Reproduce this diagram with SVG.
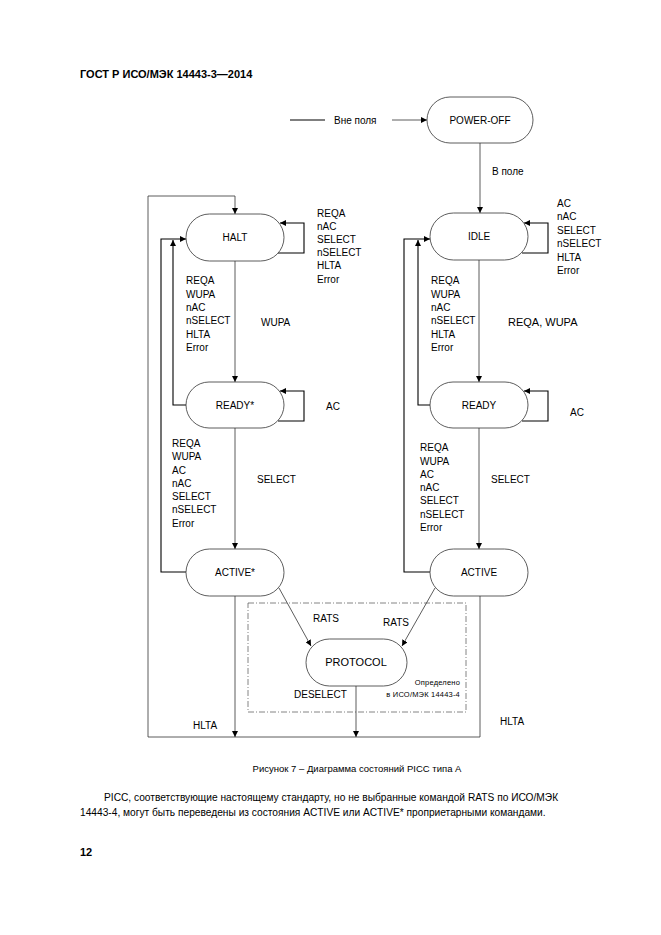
<svg xmlns="http://www.w3.org/2000/svg" width="661" height="935" viewBox="0 0 661 935">
<defs>
<marker id="ah" viewBox="0 0 10 10" refX="10" refY="5" markerWidth="6" markerHeight="6" orient="auto" markerUnits="userSpaceOnUse">
<path d="M0,0 L10,5 L0,10 z" fill="#000"/>
</marker>
</defs>
<style>
text{font-family:"Liberation Sans",Arial,sans-serif;fill:#000}
.t{font-size:10px}
.n{font-size:10px;text-anchor:middle}
.s{font-size:7.5px;text-anchor:end;letter-spacing:0.2px}
.node{fill:#fff;stroke:#333;stroke-width:0.8}
.c{fill:none;stroke:#333;stroke-width:0.8}
.b{fill:none;stroke:#000;stroke-width:1.1}
.box{fill:none;stroke:#666;stroke-width:0.8;stroke-dasharray:6 2 1 2}
</style>
<rect width="661" height="935" fill="#fff"/>
<text x="80" y="78" style="font-size:11px;font-weight:bold">ГОСТ Р ИСО/МЭК 14443-3—2014</text>

<rect class="box" x="248" y="603" width="218" height="109"/>

<g id="connectors">
<line class="b" x1="290" y1="120" x2="325" y2="120"/>
<line class="c" x1="392" y1="120" x2="427" y2="120" marker-end="url(#ah)"/>
<line class="c" x1="480" y1="143" x2="480" y2="213" marker-end="url(#ah)"/>
<path class="c" d="M480,596 V737 H148 V196 H235 V214" marker-end="url(#ah)"/>
<line class="c" x1="235" y1="596" x2="235" y2="737" marker-end="url(#ah)"/>
<line class="c" x1="356" y1="686" x2="356" y2="737" marker-end="url(#ah)"/>
<path class="b" d="M186,572 H161 V239 H186" marker-end="url(#ah)"/>
<path class="b" d="M186,405 H173 V240" marker-end="url(#ah)"/>
<path class="b" d="M278,253 H304 V223 H280" marker-end="url(#ah)"/>
<line class="c" x1="235" y1="261" x2="235" y2="382" marker-end="url(#ah)"/>
<path class="b" d="M278,421 H304 V391 H280" marker-end="url(#ah)"/>
<line class="c" x1="235" y1="428" x2="235" y2="549" marker-end="url(#ah)"/>
<line class="c" x1="279" y1="588" x2="311" y2="646" marker-end="url(#ah)"/>
<line class="c" x1="435" y1="588" x2="402" y2="646" marker-end="url(#ah)"/>
<path class="b" d="M430,572 H404 V239 H430" marker-end="url(#ah)"/>
<path class="b" d="M430,405 H418 V240" marker-end="url(#ah)"/>
<path class="b" d="M522,253 H548 V223 H524" marker-end="url(#ah)"/>
<line class="c" x1="479" y1="260" x2="479" y2="382" marker-end="url(#ah)"/>
<path class="b" d="M522,421 H548 V391 H524" marker-end="url(#ah)"/>
<line class="c" x1="479" y1="428" x2="479" y2="549" marker-end="url(#ah)"/>
</g>

<g id="power-off"><rect class="node" x="427" y="97" width="106" height="46" rx="23"/><text class="n" x="480" y="124">POWER-OFF</text></g>
<g id="halt"><rect class="node" x="186" y="214" width="98" height="47" rx="23.5"/><text class="n" x="235" y="241">HALT</text></g>
<g id="idle"><rect class="node" x="430" y="213" width="98" height="47" rx="23.5"/><text class="n" x="479" y="240">IDLE</text></g>
<g id="ready-star"><rect class="node" x="186" y="382" width="98" height="46" rx="23"/><text class="n" x="235" y="409">READY*</text></g>
<g id="ready"><rect class="node" x="430" y="382" width="98" height="46" rx="23"/><text class="n" x="479" y="409">READY</text></g>
<g id="active-star"><rect class="node" x="186" y="549" width="98" height="47" rx="23.5"/><text class="n" x="235" y="576">ACTIVE*</text></g>
<g id="active"><rect class="node" x="430" y="549" width="98" height="47" rx="23.5"/><text class="n" x="479" y="576">ACTIVE</text></g>
<g id="protocol"><rect class="node" x="306" y="639" width="101" height="47" rx="23.5"/><text class="n" x="356" y="666" style="font-size:11px">PROTOCOL</text></g>

<g id="labels">
<text class="t" x="334" y="124">Вне поля</text>
<text class="t" x="492" y="175">В поле</text>
<text class="t" x="317" y="217">REQA</text>
<text class="t" x="317" y="230">nAC</text>
<text class="t" x="317" y="243">SELECT</text>
<text class="t" x="317" y="256">nSELECT</text>
<text class="t" x="317" y="269">HLTA</text>
<text class="t" x="317" y="283">Error</text>
<text class="t" x="186" y="284">REQA</text>
<text class="t" x="186" y="298">WUPA</text>
<text class="t" x="186" y="311">nAC</text>
<text class="t" x="186" y="324">nSELECT</text>
<text class="t" x="186" y="338">HLTA</text>
<text class="t" x="186" y="351">Error</text>
<text class="t" x="261" y="326">WUPA</text>
<text class="t" x="326" y="410">AC</text>
<text class="t" x="172" y="447">REQA</text>
<text class="t" x="172" y="460">WUPA</text>
<text class="t" x="172" y="474">AC</text>
<text class="t" x="172" y="487">nAC</text>
<text class="t" x="172" y="500">SELECT</text>
<text class="t" x="172" y="513">nSELECT</text>
<text class="t" x="172" y="527">Error</text>
<text class="t" x="257" y="483">SELECT</text>
<text class="t" x="193" y="729">HLTA</text>
<text class="t" x="557" y="207">AC</text>
<text class="t" x="557" y="220">nAC</text>
<text class="t" x="557" y="234">SELECT</text>
<text class="t" x="557" y="247">nSELECT</text>
<text class="t" x="557" y="261">HLTA</text>
<text class="t" x="557" y="274">Error</text>
<text class="t" x="431" y="284">REQA</text>
<text class="t" x="431" y="298">WUPA</text>
<text class="t" x="431" y="311">nAC</text>
<text class="t" x="431" y="324">nSELECT</text>
<text class="t" x="431" y="338">HLTA</text>
<text class="t" x="431" y="351">Error</text>
<text class="t" x="508" y="326" style="font-size:11px">REQA, WUPA</text>
<text class="t" x="570" y="416">AC</text>
<text class="t" x="420" y="451">REQA</text>
<text class="t" x="420" y="465">WUPA</text>
<text class="t" x="420" y="478">AC</text>
<text class="t" x="420" y="491">nAC</text>
<text class="t" x="420" y="504">SELECT</text>
<text class="t" x="420" y="518">nSELECT</text>
<text class="t" x="420" y="531">Error</text>
<text class="t" x="491" y="483">SELECT</text>
<text class="t" x="313" y="622">RATS</text>
<text class="t" x="383" y="626">RATS</text>
<text class="t" x="294" y="698">DESELECT</text>
<text class="s" x="460" y="685">Определено</text>
<text class="s" x="460" y="697">в ИСО/МЭК 14443-4</text>
<text class="t" x="500" y="725">HLTA</text>
</g>

<text x="357" y="772" style="font-size:9.5px;text-anchor:middle">Рисунок 7 – Диаграмма состояний PICC типа А</text>
<text x="104" y="801" style="font-size:10.2px">PICC, соответствующие настоящему стандарту, но не выбранные командой RATS по ИСО/МЭК</text>
<text x="80" y="816" style="font-size:10.2px">14443-4, могут быть переведены из состояния ACTIVE или ACTIVE* проприетарными командами.</text>
<text x="80" y="856" style="font-size:11px;font-weight:bold">12</text>
</svg>
